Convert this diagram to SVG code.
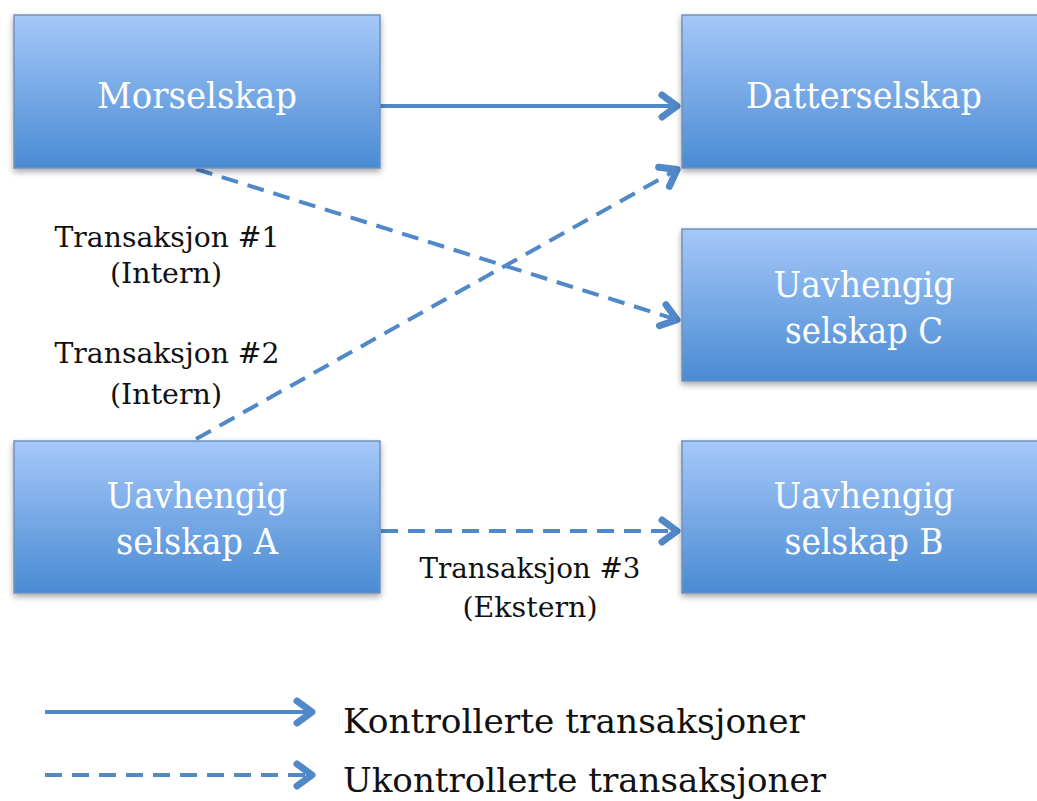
<svg xmlns="http://www.w3.org/2000/svg" width="1037" height="801" viewBox="0 0 1037 801">
<defs>
<linearGradient id="g" x1="0" y1="0" x2="0" y2="1">
<stop offset="0" stop-color="#A5C8F8"/>
<stop offset="1" stop-color="#4A8BD4"/>
</linearGradient>
<filter id="sh" x="-10%" y="-10%" width="130%" height="140%">
<feDropShadow dx="0" dy="3" stdDeviation="3" flood-color="#000" flood-opacity="0.35"/>
</filter>
<marker id="ah" viewBox="0 0 24 30" refX="21" refY="15" markerWidth="24" markerHeight="30" markerUnits="userSpaceOnUse" orient="auto">
<path d="M5,4 L20,15 L5,26" fill="none" stroke="#5088C8" stroke-width="7" stroke-linecap="round" stroke-linejoin="round"/>
</marker>
<style>
.box{fill:url(#g);stroke:#6E92BE;stroke-width:1.5;filter:url(#sh)}
.bt{font-family:"DejaVu Serif","Liberation Serif",serif;font-size:35px;fill:#FFFFFF;text-anchor:middle}
.lb{font-family:"DejaVu Serif","Liberation Serif",serif;font-size:27px;fill:#111;text-anchor:middle}
.lg{font-family:"DejaVu Serif","Liberation Serif",serif;font-size:34px;fill:#111}
.c{stroke:#5088C8;stroke-width:4;fill:none;marker-end:url(#ah)}
.d{stroke-dasharray:17 10}
</style>
</defs>
<rect width="1037" height="801" fill="#fff"/>
<g id="connectors">
<line class="c" x1="380" y1="106" x2="678" y2="106"/>
<line class="c d" x1="196" y1="169" x2="678" y2="320"/>
<line class="c d" x1="196" y1="439" x2="678" y2="169"/>
<line class="c d" x1="381" y1="531" x2="678" y2="531"/>
</g>
<g id="morselskap">
<rect class="box" x="14" y="15" width="366" height="153"/>
<text class="bt" x="197" y="108" textLength="200" lengthAdjust="spacingAndGlyphs">Morselskap</text>
</g>
<g id="datterselskap">
<rect class="box" x="682" y="15" width="370" height="153"/>
<text class="bt" x="864" y="108" textLength="236" lengthAdjust="spacingAndGlyphs">Datterselskap</text>
</g>
<g id="selskapC">
<rect class="box" x="682" y="229" width="370" height="152"/>
<text class="bt" x="864" y="297" textLength="181" lengthAdjust="spacingAndGlyphs">Uavhengig</text>
<text class="bt" x="864" y="343" textLength="158" lengthAdjust="spacingAndGlyphs">selskap C</text>
</g>
<g id="selskapA">
<rect class="box" x="14" y="441" width="366" height="152"/>
<text class="bt" x="197" y="508" textLength="181" lengthAdjust="spacingAndGlyphs">Uavhengig</text>
<text class="bt" x="197" y="554" textLength="162" lengthAdjust="spacingAndGlyphs">selskap A</text>
</g>
<g id="selskapB">
<rect class="box" x="682" y="441" width="370" height="152"/>
<text class="bt" x="864" y="508" textLength="181" lengthAdjust="spacingAndGlyphs">Uavhengig</text>
<text class="bt" x="864" y="554" textLength="159" lengthAdjust="spacingAndGlyphs">selskap B</text>
</g>
<g id="labels">
<text class="lb" x="167" y="247" textLength="225" lengthAdjust="spacingAndGlyphs">Transaksjon #1</text>
<text class="lb" x="166" y="283" textLength="112" lengthAdjust="spacingAndGlyphs">(Intern)</text>
<text class="lb" x="167" y="363" textLength="225" lengthAdjust="spacingAndGlyphs">Transaksjon #2</text>
<text class="lb" x="166" y="404" textLength="112" lengthAdjust="spacingAndGlyphs">(Intern)</text>
<text class="lb" x="530" y="578" textLength="221" lengthAdjust="spacingAndGlyphs">Transaksjon #3</text>
<text class="lb" x="530" y="617" textLength="135" lengthAdjust="spacingAndGlyphs">(Ekstern)</text>
</g>
<g id="legend">
<line class="c" x1="45" y1="712" x2="313" y2="712"/>
<line class="c d" x1="45" y1="775" x2="313" y2="775"/>
<text class="lg" x="343" y="733" textLength="462" lengthAdjust="spacingAndGlyphs">Kontrollerte transaksjoner</text>
<text class="lg" x="343" y="792" textLength="483" lengthAdjust="spacingAndGlyphs">Ukontrollerte transaksjoner</text>
</g>
</svg>
